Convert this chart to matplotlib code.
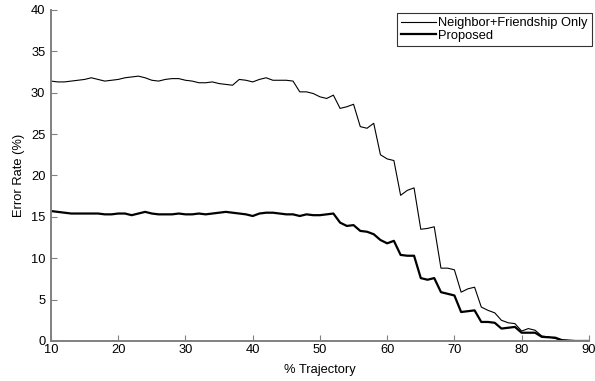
import numpy as np
import matplotlib.pyplot as plt

plt.rcParams['font.family'] = ['Liberation Sans', 'DejaVu Sans']

trajectory = list(range(10, 91))

neighbor_friendship = [
    31.4, 31.3, 31.3, 31.4, 31.5, 31.6, 31.8, 31.6, 31.4, 31.5,   # 10-19
    31.6, 31.8, 31.9, 32.0, 31.8, 31.5, 31.4, 31.6, 31.7, 31.7,   # 20-29
    31.5, 31.4, 31.2, 31.2, 31.3, 31.1, 31.0, 30.9, 31.6, 31.5,   # 30-39
    31.3, 31.6, 31.8, 31.5, 31.5, 31.5, 31.4, 30.1, 30.1, 29.9,   # 40-49
    29.5, 29.3, 29.7, 28.1, 28.3, 28.6, 25.9, 25.7, 26.3, 22.5,   # 50-59
    22.0, 21.8, 17.6, 18.2, 18.5, 13.5, 13.6, 13.8, 8.8, 8.8,     # 60-69
    8.6, 5.9, 6.3, 6.5, 4.1, 3.7, 3.4, 2.5, 2.2, 2.1,             # 70-79
    1.2, 1.5, 1.3, 0.6, 0.5, 0.3, 0.1, 0.05, 0.0, 0.0,            # 80-89
    0.0,                                                           # 90
]

proposed = [
    15.7, 15.6, 15.5, 15.4, 15.4, 15.4, 15.4, 15.4, 15.3, 15.3,   # 10-19
    15.4, 15.4, 15.2, 15.4, 15.6, 15.4, 15.3, 15.3, 15.3, 15.4,   # 20-29
    15.3, 15.3, 15.4, 15.3, 15.4, 15.5, 15.6, 15.5, 15.4, 15.3,   # 30-39
    15.1, 15.4, 15.5, 15.5, 15.4, 15.3, 15.3, 15.1, 15.3, 15.2,   # 40-49
    15.2, 15.3, 15.4, 14.3, 13.9, 14.0, 13.3, 13.2, 12.9, 12.2,   # 50-59
    11.8, 12.1, 10.4, 10.3, 10.3, 7.6, 7.4, 7.6, 5.9, 5.7,        # 60-69
    5.5, 3.5, 3.6, 3.7, 2.3, 2.3, 2.2, 1.5, 1.6, 1.7,             # 70-79
    1.0, 1.0, 1.0, 0.5, 0.45, 0.4, 0.1, 0.05, 0.0, 0.0,           # 80-89
    0.0,                                                           # 90
]

fig = plt.figure(figsize=(5.95, 3.81), dpi=100)
ax = fig.add_axes([0.0857, 0.105, 0.904, 0.869])

ax.plot(trajectory, neighbor_friendship, color='black', linewidth=0.8,
        label='Neighbor+Friendship Only')
ax.plot(trajectory, proposed, color='black', linewidth=1.6, label='Proposed')

ax.set_xlim(10, 90)
ax.set_ylim(0, 40)
ax.set_xticks(range(10, 91, 10))
ax.set_yticks(range(0, 41, 5))
ax.tick_params(direction='in', length=4, width=0.8, color='#808080',
               labelsize=9.3)
ax.tick_params(axis='x', pad=2)
ax.tick_params(axis='y', pad=4)
for side in ['top', 'right']:
    ax.spines[side].set_visible(False)
for side in ['left', 'bottom']:
    ax.spines[side].set_color('#808080')
    ax.spines[side].set_linewidth(1.4)

ax.set_xlabel('% Trajectory', fontsize=9.3, labelpad=6)
ax.set_ylabel('Error Rate (%)', fontsize=9.3, labelpad=4)

leg = ax.legend(loc='upper right', bbox_to_anchor=(1.005, 0.99), fontsize=9.3,
                frameon=True, fancybox=False, edgecolor='black',
                borderpad=0.3, handlelength=2.7, handletextpad=0.15,
                labelspacing=0.05, borderaxespad=0)
leg.get_frame().set_linewidth(0.8)

fig.savefig('out.png', dpi=100)
